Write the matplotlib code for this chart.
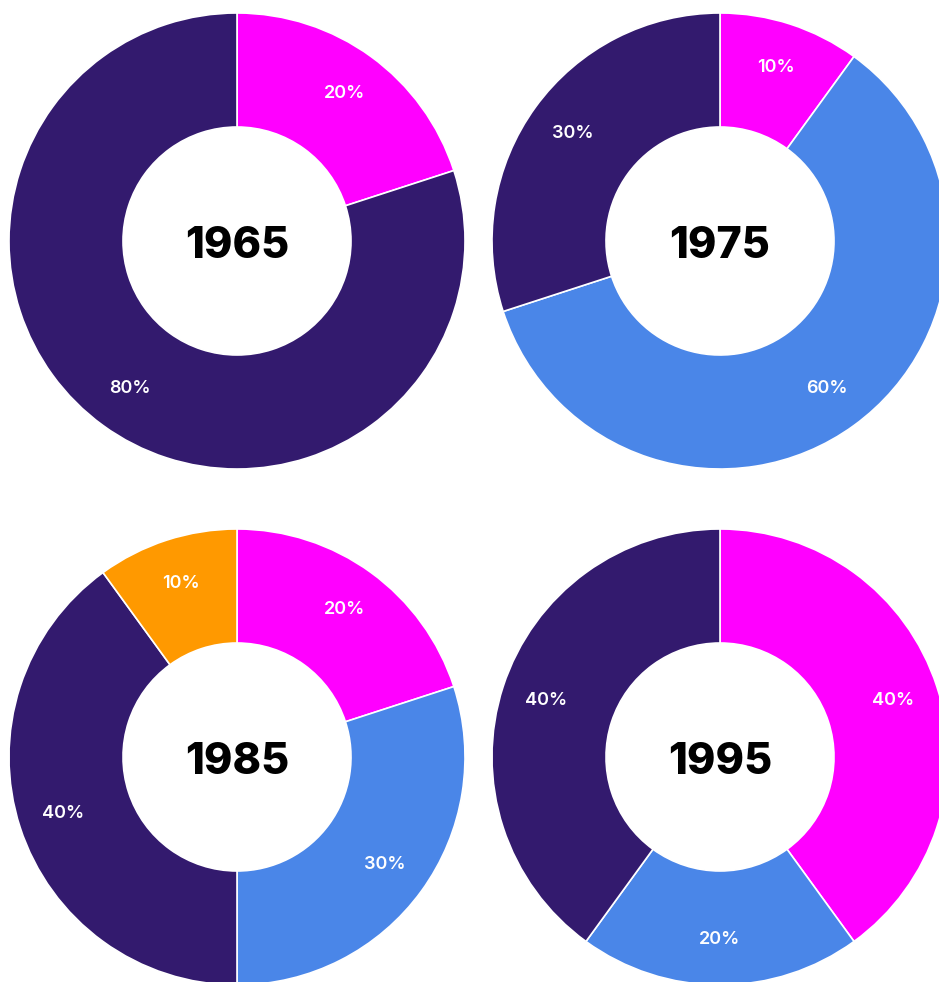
import numpy as np
import matplotlib.pyplot as plt

#%% Datos
years = ["1965", "1975", "1985", "1995"]
magenta = [20, 10, 20, 40]
blue = [0, 60, 30, 20]
purple = [80, 30, 40, 40]
orange = [0, 0, 10, 0]

colors = ["#FF00FF", "#4A86E8", "#331A6E", "#FF9900"]

#%% Layout (pixels)
W, H = 939, 982
centers = [(237, 241), (720, 241), (237, 757), (720, 757)]
rOut = 228
rIn = 114

fig = plt.figure(figsize=(W / 100, H / 100), dpi=100)
ax = fig.add_axes([0, 0, 1, 1])

for i in range(len(years)):
    vals = [magenta[i], blue[i], purple[i], orange[i]]
    cols = [c for v, c in zip(vals, colors) if v > 0]
    vals = [v for v in vals if v > 0]
    cx, cy = centers[i]
    wedges, texts, autotexts = ax.pie(
        vals, colors=cols, center=(cx, H - cy), radius=rOut,
        startangle=90, counterclock=False,
        autopct="%d%%", pctdistance=0.8,
        wedgeprops=dict(width=rOut - rIn, edgecolor="white", linewidth=1.2),
        textprops=dict(color="white", fontsize=13, family="Inter", weight="semibold"))
    ax.text(cx, H - cy - 5, years[i], ha="center", va="center",
            fontsize=31, weight="heavy", family="Inter", color="black")

ax.set_xlim(0, W)
ax.set_ylim(0, H)
ax.set_aspect("equal")
ax.axis("off")
fig.savefig("out.png", dpi=100, facecolor="white")
